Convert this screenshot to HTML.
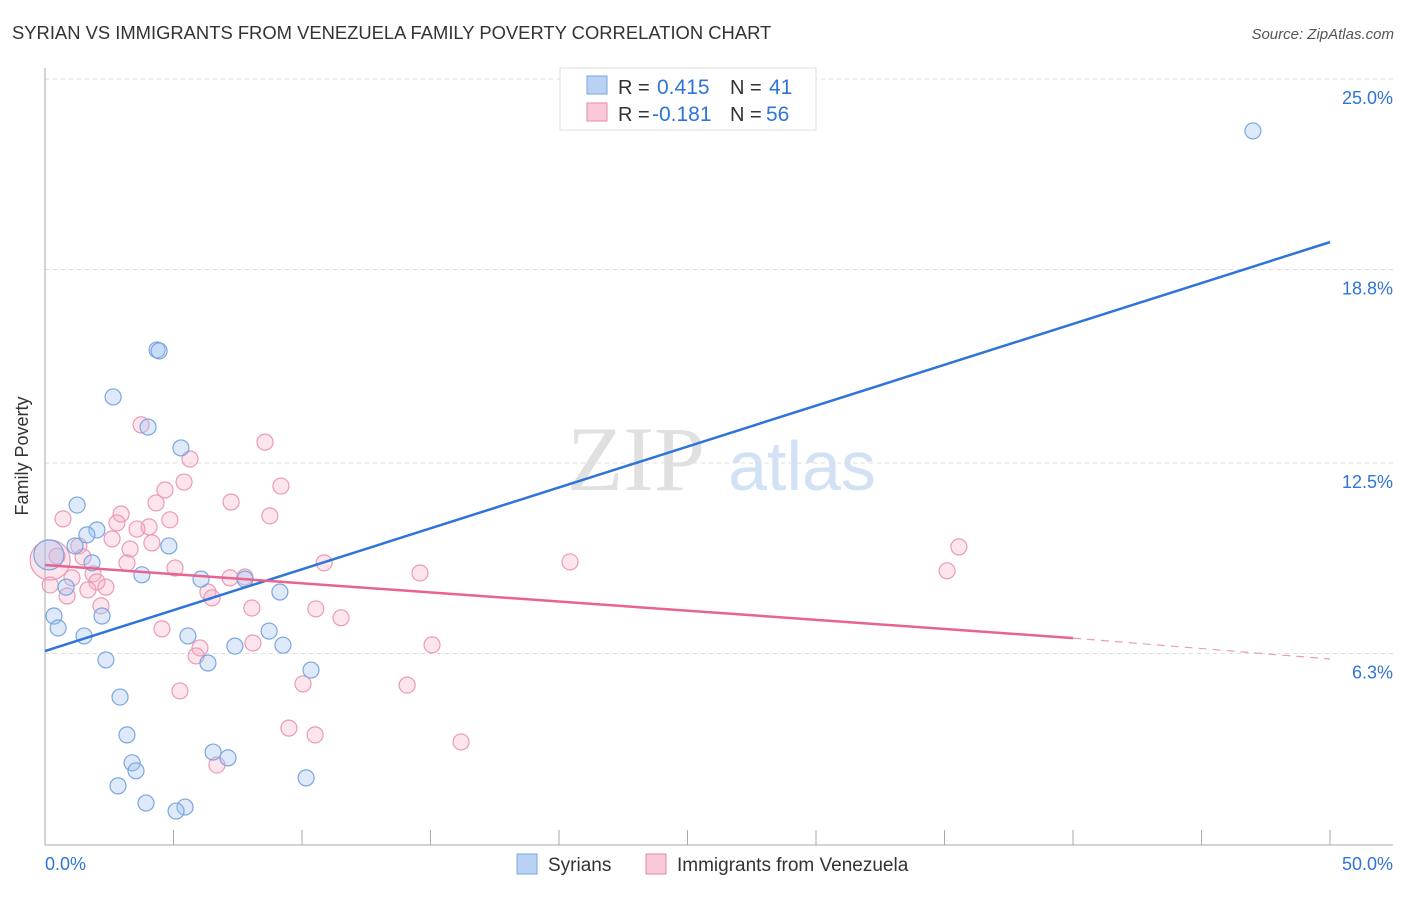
<!DOCTYPE html>
<html><head><meta charset="utf-8">
<style>
body{margin:0;background:#fff;font-family:"Liberation Sans",sans-serif;}
svg text{font-family:"Liberation Sans",sans-serif;}
</style></head>
<body>
<svg id="chart" width="1406" height="892" xmlns="http://www.w3.org/2000/svg">
<text x="12" y="39" font-size="18.4" fill="#333">SYRIAN VS IMMIGRANTS FROM VENEZUELA FAMILY POVERTY CORRELATION CHART</text>
<text x="1394" y="39" font-size="15" fill="#555" font-style="italic" text-anchor="end">Source: ZipAtlas.com</text>
<g>
<text x="636" y="490" font-size="92" fill="#e0e0e0" text-anchor="middle" font-family="Liberation Serif" style="font-family:'Liberation Serif',serif">ZIP</text>
<text x="802" y="490" font-size="70" fill="#d3e1f5" text-anchor="middle">atlas</text>
</g>
<g id="grid"></g>
<g id="axes"></g>
<g id="pts"></g>
<g id="lines"></g>
<text x="28" y="456" font-size="18" fill="#333" text-anchor="middle" transform="rotate(-90 28 456)">Family Poverty</text>
<g>
<rect x="560" y="68" width="256" height="62" fill="#fff" stroke="#ddd"/>
<rect x="587" y="76" width="20" height="18" fill="#b9d2f4" stroke="#7aa6e0"/>
<rect x="587" y="103" width="20" height="18" fill="#f9c9d7" stroke="#e88aa8"/>
<text x="618" y="94" font-size="20" fill="#333">R =</text>
<text x="657" y="94" font-size="21" fill="#2f74d8">0.415</text>
<text x="730" y="94" font-size="20" fill="#333">N =</text>
<text x="769" y="94" font-size="21" fill="#2f74d8">41</text>
<text x="618" y="121" font-size="20" fill="#333">R =</text>
<text x="652" y="121" font-size="21" fill="#2f74d8">-0.181</text>
<text x="730" y="121" font-size="20" fill="#333">N =</text>
<text x="766" y="121" font-size="21" fill="#2f74d8">56</text>
</g>
<g>
<rect x="517" y="854" width="20" height="20" fill="#b9d2f4" stroke="#7aa6e0"/>
<text x="548" y="871" font-size="19" fill="#333">Syrians</text>
<rect x="646" y="854" width="20" height="20" fill="#f9c9d7" stroke="#e88aa8"/>
<text x="677" y="871" font-size="19" fill="#333">Immigrants from Venezuela</text>
</g>
</svg>
<script>
const yTicks=[25.0,18.8,12.5,6.3];
const yTickLabels=["25.0%","18.8%","12.5%","6.3%"];
const xTickLabels=["0.0%","50.0%"];
const blueX=[47.0,4.36,4.44,2.65,4.01,5.29,1.25,2.02,1.63,1.17,4.82,1.83,3.77,6.07,7.78,0.82,9.14,0.35,2.22,0.51,1.52,5.56,8.72,7.39,9.26,2.37,6.34,10.35,2.92,3.19,6.54,7.12,3.39,3.54,10.16,2.84,3.93,5.45,5.10,0.15];
const blueY=[23.31,16.18,16.15,14.65,13.67,12.99,11.13,10.32,10.16,9.80,9.80,9.25,8.86,8.72,8.72,8.46,8.30,7.52,7.52,7.13,6.87,6.87,7.03,6.54,6.57,6.09,5.99,5.76,4.88,3.65,3.09,2.90,2.74,2.48,2.25,1.99,1.43,1.30,1.17,9.51];
const pinkX=[3.74,8.56,5.64,5.41,4.67,9.18,7.24,4.32,2.96,0.70,8.75,2.80,4.86,4.05,3.58,2.61,4.16,1.32,3.31,0.47,1.48,3.19,10.86,5.06,20.43,35.56,35.10,14.59,1.87,1.05,7.20,7.78,2.02,2.37,1.67,6.34,0.86,6.50,8.05,2.18,10.54,11.52,4.55,6.03,15.06,8.09,5.88,10.04,14.09,5.25,9.49,10.51,16.19,6.69,0.2,0.2];
const pinkY=[13.74,13.18,12.63,11.88,11.62,11.75,11.23,11.20,10.84,10.68,10.78,10.55,10.65,10.42,10.35,10.03,9.90,9.80,9.70,9.47,9.44,9.25,9.25,9.08,9.28,9.77,8.99,8.92,8.89,8.76,8.76,8.79,8.63,8.46,8.37,8.30,8.17,8.11,7.78,7.85,7.75,7.46,7.10,6.48,6.58,6.64,6.22,5.31,5.27,5.08,3.87,3.65,3.42,2.67,9.34,8.53];
const blueLine=[[0,6.38],[50,19.69]];
const pinkLine=[[0,9.18],[40,6.80],[50,6.12]];
const NS="http://www.w3.org/2000/svg";
const sx=v=>45+v*(1285/50);
const sy=v=>79+(25-v)*30.72;
function mk(tag,attrs,parent){const e=document.createElementNS(NS,tag);for(const k in attrs)e.setAttribute(k,attrs[k]);document.getElementById(parent).appendChild(e);return e;}
yTicks.forEach((t,i)=>{
 const g=mk('line',{x1:45,x2:1393,y1:sy(t),y2:sy(t),stroke:'#ddd','stroke-dasharray':'4,4'},'grid');
 
 
 const l=mk('text',{x:1393,y:sy(t)+25,'font-size':18,fill:'#2f74d8','text-anchor':'end'},'axes');
 l.textContent=yTickLabels[i];
 
 
});
let a=mk('line',{x1:45,x2:45,y1:68,y2:845,stroke:'#aaa'},'axes');


a=mk('line',{x1:45,x2:1393,y1:845,y2:845,stroke:'#aaa'},'axes');


for(let k=0;k<=10;k++){
 const t=mk('line',{x1:sx(k*5),x2:sx(k*5),y1:830,y2:845,stroke:'#aaa'},'axes');
 
 
}
[[0,'start',45],[50,'end',1393]].forEach((d,i)=>{
 const l=mk('text',{x:d[2],y:870,'font-size':18,fill:'#2f74d8','text-anchor':d[1]},'axes');
 l.textContent=xTickLabels[i];
 
 
});
pinkX.forEach((x,i)=>{
 const big=i===54;
 const c=mk('circle',{cx:sx(x),cy:sy(pinkY[i]),r:big?20:8,fill:'rgba(244,170,195,0.3)',stroke:'#ec9ab4','stroke-width':1.2},'pts');
 
 
});
blueX.forEach((x,i)=>{
 const big=i===39;
 const c=mk('circle',{cx:sx(x),cy:sy(blueY[i]),r:big?15:8,fill:'rgba(160,195,240,0.35)',stroke:'#7aa6e0','stroke-width':1.2},'pts');
 
 
});
let bl=mk('line',{x1:sx(blueLine[0][0]),y1:sy(blueLine[0][1]),x2:sx(blueLine[1][0]),y2:sy(blueLine[1][1]),stroke:'#2f74d8','stroke-width':2.5},'lines');


let pl=mk('line',{x1:sx(pinkLine[0][0]),y1:sy(pinkLine[0][1]),x2:sx(pinkLine[1][0]),y2:sy(pinkLine[1][1]),stroke:'#e8638f','stroke-width':2.5},'lines');


let pd=mk('line',{x1:sx(pinkLine[1][0]),y1:sy(pinkLine[1][1]),x2:sx(pinkLine[2][0]),y2:sy(pinkLine[2][1]),stroke:'#e8a0b8','stroke-width':1.2,'stroke-dasharray':'8,6'},'lines');


</script>
</body></html>
